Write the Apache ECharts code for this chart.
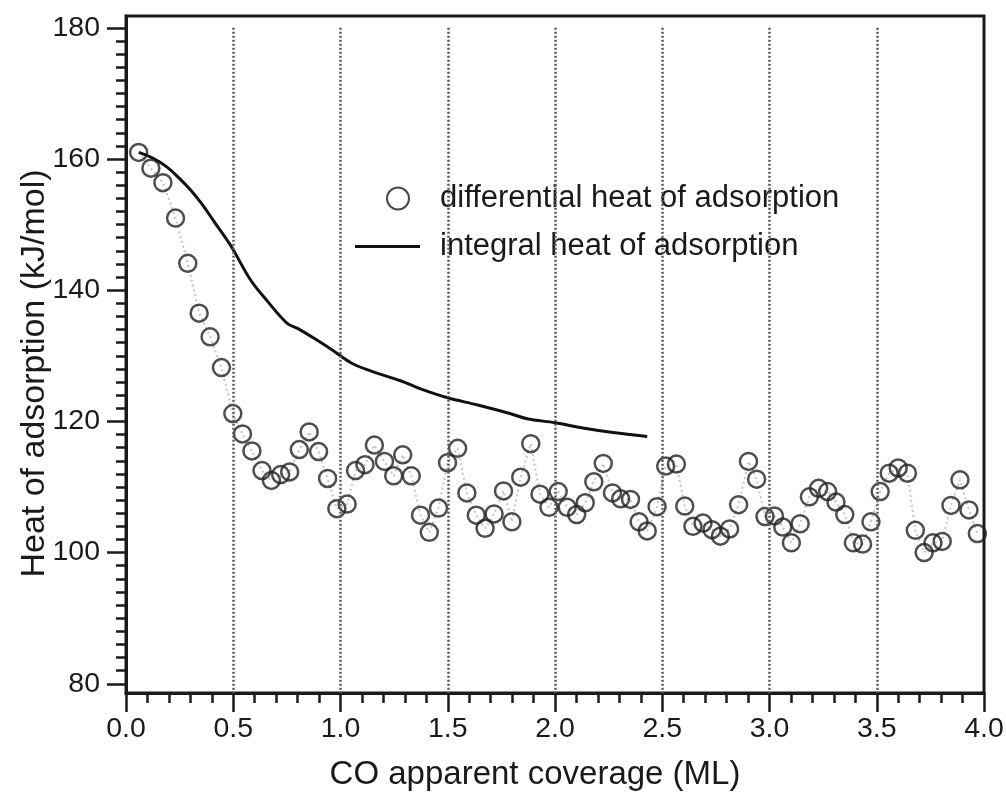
<!DOCTYPE html>
<html>
<head>
<meta charset="utf-8">
<script src="https://cdn.jsdelivr.net/npm/echarts@6/dist/echarts.min.js"></script>
<style>
  html, body { margin: 0; padding: 0; background: #fff; }
  #chart { width: 1006px; height: 792px; }
</style>
</head>
<body>
<div id="chart"></div>
<script>
// Differential heat of adsorption (open circles): coverage (ML) and heat (kJ/mol)
const diffCoverage = [
  0.059, 0.116, 0.172, 0.231, 0.288, 0.341, 0.392, 0.445, 0.498, 0.543,
  0.587, 0.634, 0.678, 0.721, 0.763, 0.808, 0.854, 0.898, 0.940, 0.983,
  1.031, 1.070, 1.114, 1.158, 1.205, 1.248, 1.290, 1.330, 1.373, 1.414,
  1.457, 1.499, 1.546, 1.589, 1.633, 1.674, 1.716, 1.760, 1.799, 1.840,
  1.887, 1.930, 1.972, 2.015, 2.057, 2.101, 2.141, 2.181, 2.225, 2.268,
  2.306, 2.352, 2.392, 2.430, 2.476, 2.516, 2.566, 2.605, 2.643, 2.690,
  2.732, 2.771, 2.814, 2.856, 2.902, 2.940, 2.979, 3.023, 3.062, 3.102,
  3.143, 3.186, 3.229, 3.271, 3.310, 3.351, 3.391, 3.434, 3.473, 3.516,
  3.558, 3.600, 3.643, 3.680, 3.721, 3.762, 3.805, 3.846, 3.888, 3.930,
  3.969
];
const diffHeat = [
  161.0, 158.6, 156.4, 151.0, 144.1, 136.5, 132.9, 128.2, 121.2, 118.1,
  115.5, 112.5, 111.0, 111.9, 112.3, 115.7, 118.4, 115.4, 111.3, 106.7,
  107.4, 112.5, 113.4, 116.4, 113.9, 111.7, 114.9, 111.7, 105.7, 103.1,
  106.8, 113.7, 115.9, 109.1, 105.7, 103.7, 105.9, 109.4, 104.7, 111.5,
  116.6, 108.9, 106.9, 109.3, 106.9, 105.8, 107.6, 110.8, 113.6, 109.1,
  108.2, 108.1, 104.7, 103.3, 107.0, 113.2, 113.5, 107.1, 104.0, 104.5,
  103.5, 102.5, 103.6, 107.3, 113.9, 111.2, 105.5, 105.6, 103.9, 101.5,
  104.4, 108.5, 109.8, 109.3, 107.7, 105.8, 101.5, 101.3, 104.7, 109.3,
  112.1, 112.9, 112.1, 103.4, 100.0, 101.5, 101.7, 107.2, 111.1, 106.5,
  102.9
];

// Integral heat of adsorption (solid curve)
const intCoverage = [
  0.06, 0.12, 0.19, 0.25, 0.30, 0.35, 0.41, 0.49, 0.58, 0.66,
  0.75, 0.81, 0.89, 0.97, 1.05, 1.14, 1.28, 1.37, 1.50, 1.64,
  1.79, 1.87, 2.00, 2.13, 2.27, 2.43
];
const intHeat = [
  161.0, 160.2, 158.8, 157.0, 155.3, 153.3, 150.5, 146.7, 141.6, 138.3,
  135.0, 134.0, 132.4, 130.7, 128.9, 127.7, 126.2, 125.0, 123.6, 122.5,
  121.2, 120.4, 119.8, 119.0, 118.3, 117.7
];

// Axis ticks and guide positions
const yMajorTicks = [80, 100, 120, 140, 160, 180];
const xGuideLines = [0.5, 1.0, 1.5, 2.0, 2.5, 3.0, 3.5];
const yMinorTicks = [];
for (let v = 80; v <= 180; v += 2) {
  if (v % 20 !== 0) yMinorTicks.push(v);
}

const Y_MIN = 78.6, Y_MAX = 181.8;
const FONT = 'Liberation Sans, Arial, sans-serif';
const INK = '#1a1a1a';

const diffName = 'differential heat of adsorption';
const intName = 'integral heat of adsorption';

const chart = echarts.init(document.getElementById('chart'), null, { renderer: 'canvas' });

chart.setOption({
  animation: false,
  backgroundColor: '#fff',
  grid: {
    left: 126, right: 22, top: 16, bottom: 99,
    containLabel: false, outerBoundsMode: 'none',
    show: true, borderColor: INK, borderWidth: 3, backgroundColor: 'transparent'
  },
  legend: [
    {
      data: [{ name: diffName, icon: 'circle', itemStyle: { color: 'transparent', borderColor: INK, borderWidth: 2 } }],
      left: 381, top: 178, itemWidth: 74, itemHeight: 22,
      textStyle: { fontFamily: FONT, fontSize: 31, color: INK },
      selectedMode: false
    },
    {
      data: [{ name: intName, icon: 'rect', itemStyle: { color: '#111' } }],
      left: 350, top: 226, itemWidth: 65, itemHeight: 3,
      textStyle: { fontFamily: FONT, fontSize: 31, color: INK, padding: [0, 0, 0, 15] },
      selectedMode: false
    }
  ],
  xAxis: {
    type: 'value', min: 0, max: 4, interval: 0.5,
    name: 'CO apparent coverage (ML)', nameLocation: 'middle', nameGap: 65,
    nameMoveOverlap: false,
    nameTextStyle: { fontFamily: FONT, fontSize: 33, color: INK, padding: [0, 40, 0, 0] },
    axisLine: { show: true, lineStyle: { color: INK, width: 3 } },
    axisTick: { show: true, inside: false, length: 19, lineStyle: { color: INK, width: 2.5 } },
    minorTick: { show: true, splitNumber: 5, length: 10, lineStyle: { color: INK, width: 2.5 } },
    axisLabel: {
      fontFamily: FONT, fontSize: 28.5, color: INK, margin: 22,
      formatter: v => v.toFixed(1)
    },
    splitLine: { show: false }
  },
  yAxis: [
    {
      type: 'value', min: Y_MIN, max: Y_MAX, position: 'left',
      name: 'Heat of adsorption (kJ/mol)', nameLocation: 'middle', nameGap: 74,
      nameMoveOverlap: false,
      nameTextStyle: { fontFamily: FONT, fontSize: 34, color: INK, padding: [0, 38, 0, 0] },
      axisLine: { show: true, lineStyle: { color: INK, width: 3 } },
      axisTick: { show: true, inside: false, length: 19, customValues: yMajorTicks, lineStyle: { color: INK, width: 2.5 } },
      axisLabel: { fontFamily: FONT, fontSize: 28.5, color: INK, margin: 26, customValues: yMajorTicks },
      splitLine: { show: false }
    },
    {
      type: 'value', min: Y_MIN, max: Y_MAX, position: 'left', offset: 0,
      axisLine: { show: false },
      axisTick: { show: true, inside: false, length: 10, customValues: yMinorTicks, lineStyle: { color: INK, width: 2.5 } },
      axisLabel: { show: false, customValues: yMinorTicks },
      splitLine: { show: false }
    }
  ],
  series: [
    {
      // dotted guide lines at each major coverage tick
      name: 'guides', type: 'line', data: [], silent: true, z: 1,
      markLine: {
        silent: true, symbol: 'none', label: { show: false },
        lineStyle: { color: '#5a5a5a', type: [2, 2], width: 2.5 },
        data: xGuideLines.map(x => [{ coord: [x, 180] }, { coord: [x, Y_MIN] }])
      }
    },
    {
      // faint dotted trace joining the differential points
      name: 'trace', type: 'line', symbol: 'none', silent: true, z: 2,
      lineStyle: { color: '#c4c4c4', type: [2, 3], width: 2 },
      data: diffCoverage.map((x, i) => [x, diffHeat[i]])
    },
    {
      name: diffName, type: 'scatter', z: 4,
      symbol: 'circle', symbolSize: 17,
      itemStyle: { color: 'transparent', borderColor: '#222', borderWidth: 2.5 },
      data: diffCoverage.map((x, i) => [x, diffHeat[i]])
    },
    {
      name: intName, type: 'line', symbol: 'none', smooth: 0.35, z: 3,
      lineStyle: { color: '#111', width: 3 },
      itemStyle: { color: '#111' },
      data: intCoverage.map((x, i) => [x, intHeat[i]])
    }
  ]
});
</script>
</body>
</html>
